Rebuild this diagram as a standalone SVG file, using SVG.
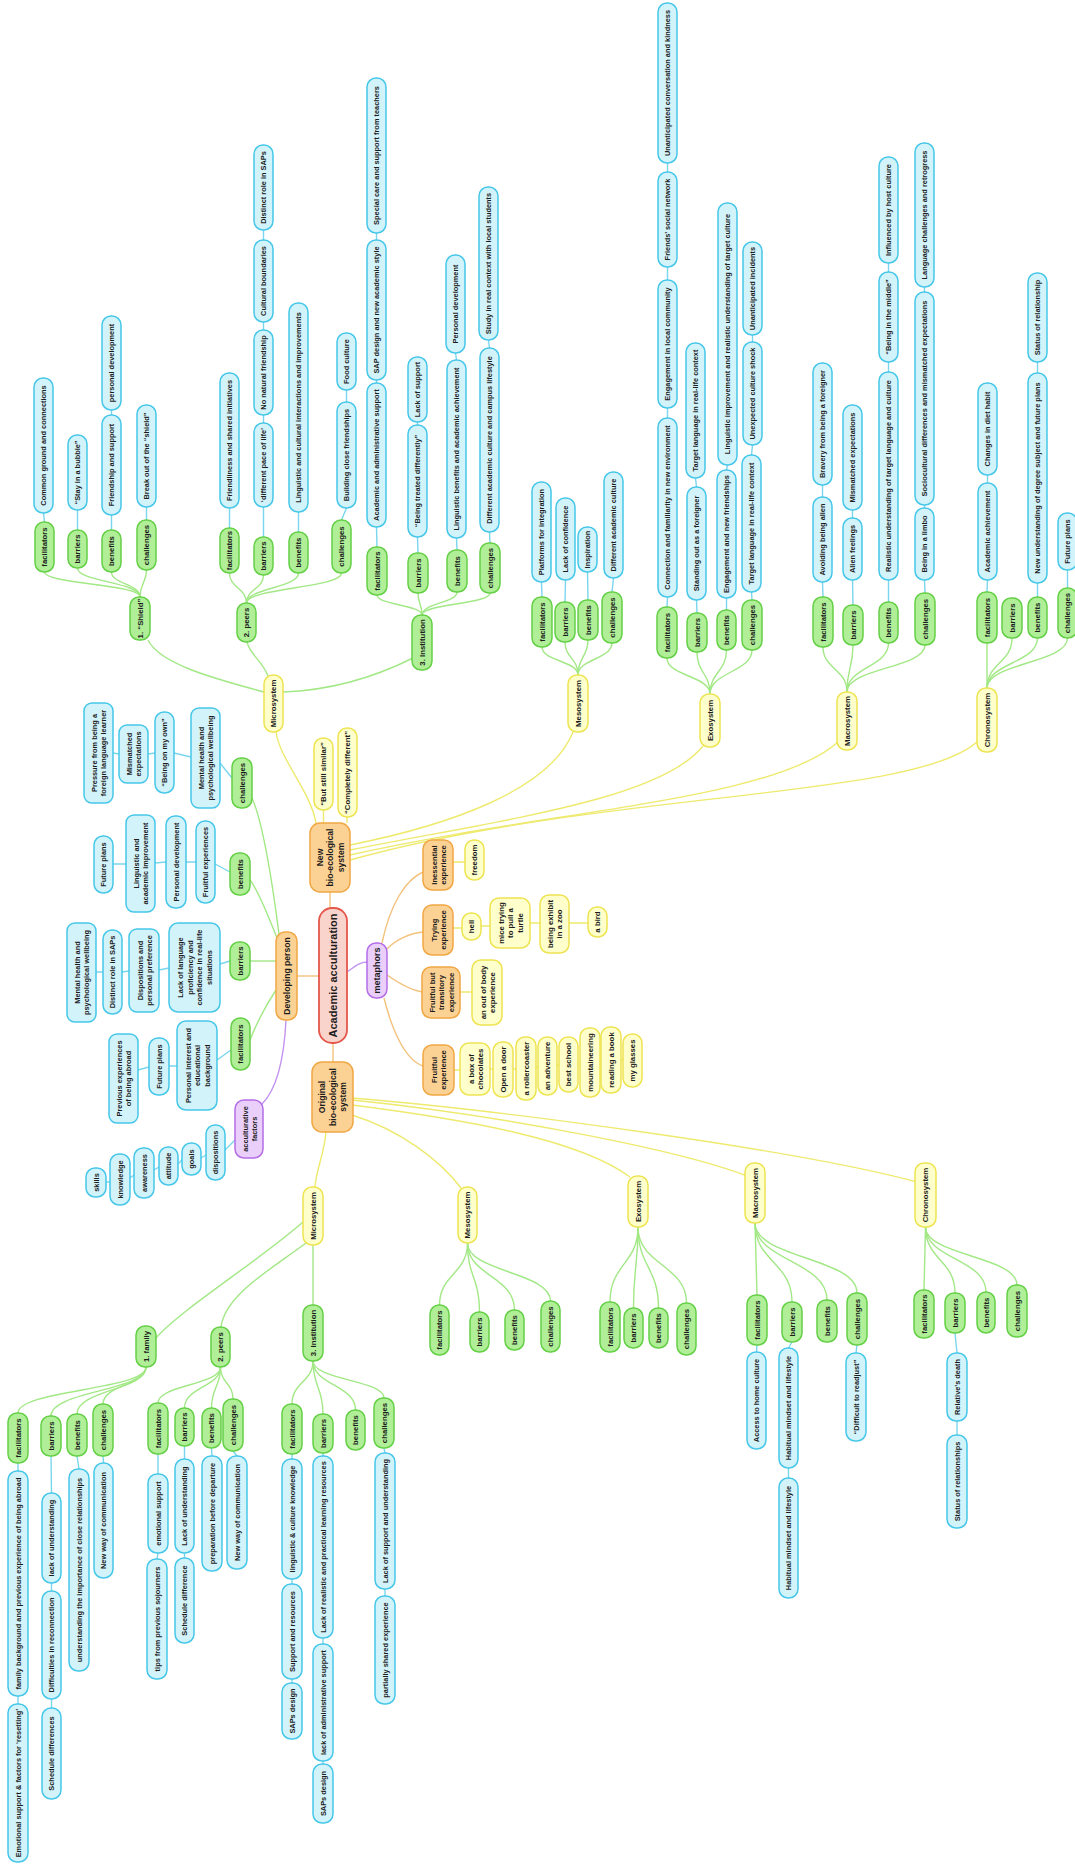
<svg xmlns="http://www.w3.org/2000/svg" width="1075" height="1866" viewBox="0 0 1075 1866">
<style>
rect{stroke-width:1.5}
.nb rect{fill:#d3f3fb;stroke:#46c7e9}
.ng rect{fill:#b0ee98;stroke:#64d046}
.ny rect{fill:#ffffcc;stroke:#eee452}
.no rect{fill:#fcd294;stroke:#f0a744}
.nr rect{fill:#f9d4cc;stroke:#e4574a;stroke-width:1.8}
.np rect{fill:#eacffa;stroke:#b46ee6}
text{font-family:"Liberation Sans",Arial,sans-serif;font-weight:bold;fill:#1c1c1c;text-anchor:middle;dominant-baseline:central;font-size:7.4px}
.ng text,.ny text{font-size:7.8px}
.no text{font-size:8.6px}
.no.sm text{font-size:7.6px}
.nr text{font-size:11px}
.np.big text{font-size:9px}
#connectors path{fill:none;stroke-width:1.4}
.lg path{stroke:#a3e886}
.ly path{stroke:#eeea6e}
.lb path{stroke:#7ad6ee}
.lo path{stroke:#f2c27c}
.lp path{stroke:#c393f0}
</style>
<rect width="1075" height="1866" fill="#fff"/>

<!-- connectors, drawn beneath the nodes -->
<g id="connectors">
<g class="lo">
<path d="M330 908V892"/><path d="M319 976H297"/><path d="M333 1043V1062"/>
<path d="M382 943C390 905 405 880 423 872"/>
<path d="M386 950C395 940 410 933 423 932"/>
<path d="M387 975C397 982 410 990 422 992"/>
<path d="M384 998C392 1030 405 1060 423 1066"/>
</g>
<g class="lp">
<path d="M347 972C355 966 360 962 367 962"/>
<path d="M286 1020C284 1060 276 1090 262 1104"/>
</g>
<g class="ly">
<path d="M316 823C310 790 280 760 276 732"/>
<path d="M323.5 823V810"/><path d="M347 823V817"/>
<path d="M350 845C450 825 550 790 573 732"/>
<path d="M350 850C500 820 660 800 703 746"/>
<path d="M350 855C550 810 780 800 840 740"/>
<path d="M350 860C600 790 920 800 979 740"/>
<path d="M326 1132C324 1155 316 1170 315 1187"/>
<path d="M352 1115C400 1130 440 1160 461 1188"/>
<path d="M352 1105C470 1120 580 1140 630 1177"/>
<path d="M352 1100C500 1115 680 1150 747 1176"/>
<path d="M352 1098C500 1110 800 1150 917 1182"/>
<path d="M453 862H465M453 928H462M481 926H490M530 923H540M569 923H588M460 992H472"/>
<path d="M454 1070H460M490 1069H493M513 1069H516M536 1067H538M557 1065H559M578 1064H580M600 1061H601M621 1060H623"/>
</g>
<g class="lg">
<path d="M264 692C220 680 160 665 148 640"/>
<path d="M268 676C262 660 250 655 247 642"/>
<path d="M283 692C340 690 385 672 413 658"/>
<path d="M140 597C140 584 44.5 584 44.5 572"/>
<path d="M140 597C140 582 77.5 582 77.5 568"/>
<path d="M140 597C140 584 111.5 584 111.5 572"/>
<path d="M140 597C140 583 146.5 583 146.5 570"/>
<path d="M246.5 603C246.5 588 229.5 588 229.5 573"/>
<path d="M246.5 603C246.5 589 263.5 589 263.5 575"/>
<path d="M246.5 603C246.5 588 298.5 588 298.5 573"/>
<path d="M246.5 603C246.5 588 341.5 588 341.5 573"/>
<path d="M422 615C422 605 377 605 377 595"/>
<path d="M422 615C422 604 418 604 418 593"/>
<path d="M422 615C422 603 457 603 457 592"/>
<path d="M422 615C422 604 490 604 490 593"/>
<path d="M578 675C578 661 542 661 542 647"/>
<path d="M578 675C578 658 565 658 565 642"/>
<path d="M578 675C578 657 588 657 588 640"/>
<path d="M578 675C578 659 612 659 612 643"/>
<path d="M710 694C710 676 667 676 667 658"/>
<path d="M710 694C710 673 697 673 697 652"/>
<path d="M710 694C710 672 726.5 672 726.5 650"/>
<path d="M710 694C710 672 752 672 752 650"/>
<path d="M847 692C847 669 823 669 823 647"/>
<path d="M847 692C847 668 853 668 853 645"/>
<path d="M847 692C847 667 888.5 667 888.5 643"/>
<path d="M847 692C847 668 925 668 925 645"/>
<path d="M987 688V643"/>
<path d="M987 688C987 663 1012 663 1012 638"/>
<path d="M987 688C987 663 1037.5 663 1037.5 638"/>
<path d="M987 688C987 663 1067.5 663 1067.5 638"/>
<path d="M279 934C272 880 262 820 252 798"/>
<path d="M277 938C268 915 258 890 250 880"/>
<path d="M276 961H250"/>
<path d="M276 990C266 1005 256 1025 250 1040"/>
<path d="M303 1222C260 1260 180 1310 156 1338"/>
<path d="M306 1243C270 1270 225 1295 221 1327"/>
<path d="M313 1245V1305"/>
<path d="M146 1367C146 1390 18 1390 18 1413"/>
<path d="M146 1367C146 1391 51 1391 51 1416"/>
<path d="M146 1367C146 1390 77 1390 77 1414"/>
<path d="M146 1367C146 1385 103 1385 103 1404"/>
<path d="M220.5 1367C220.5 1385 158 1385 158 1403"/>
<path d="M220.5 1367C220.5 1387 184.5 1387 184.5 1408"/>
<path d="M220.5 1367C220.5 1387 211.5 1387 211.5 1408"/>
<path d="M220.5 1367C220.5 1383 233 1383 233 1399"/>
<path d="M313 1361C313 1382 292 1382 292 1404"/>
<path d="M313 1361C313 1387 323 1387 323 1414"/>
<path d="M313 1361C313 1385 355.5 1385 355.5 1410"/>
<path d="M313 1361C313 1380 384 1380 384 1398"/>
<path d="M467.5 1243C467.5 1274 439.5 1274 439.5 1305"/>
<path d="M467.5 1243C467.5 1277 479.5 1277 479.5 1312"/>
<path d="M467.5 1243C467.5 1276 514.5 1276 514.5 1310"/>
<path d="M467.5 1243C467.5 1272 550.5 1272 550.5 1301"/>
<path d="M638 1227C638 1264 610 1264 610 1302"/>
<path d="M638 1227C638 1267 633.5 1267 633.5 1308"/>
<path d="M638 1227C638 1267 658.5 1267 658.5 1308"/>
<path d="M638 1227C638 1265 686.5 1265 686.5 1303"/>
<path d="M755 1223L757 1295"/>
<path d="M755 1223C755 1262 792 1262 792 1302"/>
<path d="M755 1223C755 1261 827 1261 827 1300"/>
<path d="M755 1223C755 1258 857 1258 857 1293"/>
<path d="M925.5 1227L924 1290"/>
<path d="M925.5 1227C925.5 1260 955 1260 955 1293"/>
<path d="M925.5 1227C925.5 1259 986 1259 986 1292"/>
<path d="M925.5 1227C925.5 1256 1017 1256 1017 1285"/>
</g>
<g class="lb">
<path d="M44.5 522L43.5 513M77.5 530V510M111.5 530V515M111.5 415V410M146.5 520V507"/>
<path d="M229.5 528V508M263.5 537V507M263.5 423V415M263.5 330V322M263.5 240V230M298.5 532V512M341.5 520L346.5 508M346.5 402V390"/>
<path d="M377 547L376.5 527M376.5 383V380M376.5 240V233M418 553L417.5 537M417.5 425V422M457 550L456.5 538M456.5 360L455.5 353M490 543L489.5 532M489.5 348L488.5 340"/>
<path d="M542 597L541.5 582M565 602L565.5 580M588 600L587.5 572M612 592L613.5 578"/>
<path d="M667 607L667.5 597M667.5 418V408M667.5 280V267M667.5 172V163M697 613L696.5 600M696.5 487L695.5 478M726.5 610V598M726.5 470L727.5 465M752 600L751.5 592M751.5 455L752.5 445M752.5 342V335"/>
<path d="M823 597L822.5 582M822.5 497V485M853 605L852.5 580M852.5 518V510M888.5 602V580M888.5 372V362M888.5 272V263M925 593L924.5 580M924.5 508V505M924.5 292V287"/>
<path d="M987 592L987.5 580M987.5 483V475M1037.5 597V583M1037.5 373V362M1067.5 588V570"/>
<path d="M18 1463V1471M18 1696V1704M51 1456L51.5 1493M51.5 1583V1591M51.5 1699V1708M77 1456L79 1469M103 1456L103.5 1463"/>
<path d="M158 1454V1474M158 1553L157 1559M184.5 1446V1459M184.5 1553V1558M211.5 1448L212 1456M233 1451L237 1456"/>
<path d="M292 1454V1459M292 1579V1584M292 1679V1683M323 1453V1456M323 1638V1644M323 1761V1764M384 1448L385 1453M385 1589V1596"/>
<path d="M757 1345L756.5 1352M792 1342L788.5 1348M788.5 1468V1478M857 1345L856 1353M955 1333L957 1353M957 1421V1435"/>
<path d="M232 778L220 763M191 757L174 753M155 753L148 754M119 754L113 753"/>
<path d="M230 872L215 864M196 862H186M166 862L155 863M126 864H113"/>
<path d="M230 961L220 964M169 968L159 970M129 971L122 972M103 972H96"/>
<path d="M231 1050L217 1060M177 1066H169M149 1067L138 1070"/>
<path d="M235 1140L225 1150M206 1155L201 1158M182 1160L178 1164M159 1167L154 1170M134 1175L130 1178M110 1182L106 1182"/>
</g>
</g>

<!-- core -->
<g id="root" class="nr"><rect x="319" y="908" width="28" height="135" rx="13"/><text transform="rotate(-90 333 975.5)" x="333" y="975.5">Academic acculturation</text></g>
<g id="new-system" class="no"><rect x="310" y="823" width="40" height="69" rx="10"/><text transform="rotate(-90 330 857.5)" x="330" y="857.5"><tspan x="330" dy="-10.5">New</tspan><tspan x="330" dy="10.5">bio-ecological</tspan><tspan x="330" dy="10.5">system</tspan></text></g>
<g id="developing-person" class="no"><rect x="276" y="932" width="21" height="88" rx="9"/><text transform="rotate(-90 286.5 976)" x="286.5" y="976">Developing person</text></g>
<g id="original-system" class="no"><rect x="312" y="1062" width="41" height="70" rx="10"/><text transform="rotate(-90 332.5 1097)" x="332.5" y="1097"><tspan x="332.5" dy="-10.5">Original</tspan><tspan x="332.5" dy="10.5">bio-ecological</tspan><tspan x="332.5" dy="10.5">system</tspan></text></g>
<g id="metaphors" class="np big"><rect x="367" y="943" width="20" height="55" rx="9"/><text transform="rotate(-90 377 970.5)" x="377" y="970.5">metaphors</text></g>
<g id="acculturative-factors" class="np"><rect x="235" y="1100" width="28" height="58" rx="9"/><text transform="rotate(-90 249 1129)" x="249" y="1129"><tspan x="249" dy="-4.5">acculturative</tspan><tspan x="249" dy="9">factors</tspan></text></g>

<!-- new bio-ecological system -->
<g id="y-micro-new" class="ny"><rect x="264" y="675" width="19" height="57" rx="9"/><text transform="rotate(-90 273.5 703.5)" x="273.5" y="703.5">Microsystem</text></g>
<g id="y-similar" class="ny"><rect x="314" y="738" width="19" height="72" rx="9"/><text transform="rotate(-90 323.5 774)" x="323.5" y="774">“But still similar”</text></g>
<g id="y-different" class="ny"><rect x="338" y="728" width="19" height="89" rx="9"/><text transform="rotate(-90 347.5 772.5)" x="347.5" y="772.5">“Completely different”</text></g>
<g id="y-meso-new" class="ny"><rect x="568" y="675" width="20" height="57" rx="9"/><text transform="rotate(-90 578 703.5)" x="578" y="703.5">Mesosystem</text></g>
<g id="y-exo-new" class="ny"><rect x="700" y="694" width="20" height="53" rx="9"/><text transform="rotate(-90 710 720.5)" x="710" y="720.5">Exosystem</text></g>
<g id="y-macro-new" class="ny"><rect x="837" y="692" width="20" height="58" rx="9"/><text transform="rotate(-90 847 721)" x="847" y="721">Macrosystem</text></g>
<g id="y-chrono-new" class="ny"><rect x="977" y="688" width="20" height="64" rx="9"/><text transform="rotate(-90 987 720)" x="987" y="720">Chronosystem</text></g>

<g id="g-shield" class="ng"><rect x="130" y="597" width="20" height="43" rx="9"/><text transform="rotate(-90 140 618.5)" x="140" y="618.5">1. “Shield”</text></g>
<g id="g-peers-new" class="ng"><rect x="237" y="603" width="19" height="39" rx="9"/><text transform="rotate(-90 246.5 622.5)" x="246.5" y="622.5">2. peers</text></g>
<g id="g-inst-new" class="ng"><rect x="412" y="615" width="20" height="55" rx="9"/><text transform="rotate(-90 422 642.5)" x="422" y="642.5">3. Institution</text></g>

<g id="s-fac" class="ng"><rect x="35" y="522" width="19" height="50" rx="9"/><text transform="rotate(-90 44.5 547)" x="44.5" y="547">facilitators</text></g>
<g id="s-fac-1" class="nb"><rect x="34" y="378" width="19" height="135" rx="9"/><text transform="rotate(-90 43.5 445.5)" x="43.5" y="445.5">Common ground and connections</text></g>
<g id="s-bar" class="ng"><rect x="68" y="530" width="19" height="38" rx="9"/><text transform="rotate(-90 77.5 549)" x="77.5" y="549">barriers</text></g>
<g id="s-bar-1" class="nb"><rect x="68" y="435" width="19" height="75" rx="9"/><text transform="rotate(-90 77.5 472.5)" x="77.5" y="472.5">“Stay in a bubble”</text></g>
<g id="s-ben" class="ng"><rect x="102" y="530" width="19" height="42" rx="9"/><text transform="rotate(-90 111.5 551)" x="111.5" y="551">benefits</text></g>
<g id="s-ben-1" class="nb"><rect x="102" y="415" width="19" height="100" rx="9"/><text transform="rotate(-90 111.5 465)" x="111.5" y="465">Friendship and support</text></g>
<g id="s-ben-2" class="nb"><rect x="102" y="316" width="19" height="94" rx="9"/><text transform="rotate(-90 111.5 363)" x="111.5" y="363">personal development</text></g>
<g id="s-cha" class="ng"><rect x="137" y="520" width="19" height="50" rx="9"/><text transform="rotate(-90 146.5 545)" x="146.5" y="545">challenges</text></g>
<g id="s-cha-1" class="nb"><rect x="137" y="405" width="19" height="102" rx="9"/><text transform="rotate(-90 146.5 456)" x="146.5" y="456">Break out of the “shield”</text></g>

<g id="p-fac" class="ng"><rect x="220" y="528" width="19" height="45" rx="9"/><text transform="rotate(-90 229.5 550.5)" x="229.5" y="550.5">facilitators</text></g>
<g id="p-fac-1" class="nb"><rect x="220" y="373" width="19" height="135" rx="9"/><text transform="rotate(-90 229.5 440.5)" x="229.5" y="440.5">Friendliness and shared initiatives</text></g>
<g id="p-bar" class="ng"><rect x="254" y="537" width="19" height="38" rx="9"/><text transform="rotate(-90 263.5 556)" x="263.5" y="556">barriers</text></g>
<g id="p-bar-1" class="nb"><rect x="254" y="423" width="19" height="84" rx="9"/><text transform="rotate(-90 263.5 465)" x="263.5" y="465">‘different pace of life’</text></g>
<g id="p-bar-2" class="nb"><rect x="254" y="330" width="19" height="85" rx="9"/><text transform="rotate(-90 263.5 372.5)" x="263.5" y="372.5">No natural friendship</text></g>
<g id="p-bar-3" class="nb"><rect x="254" y="240" width="19" height="82" rx="9"/><text transform="rotate(-90 263.5 281)" x="263.5" y="281">Cultural boundaries</text></g>
<g id="p-bar-4" class="nb"><rect x="254" y="145" width="19" height="85" rx="9"/><text transform="rotate(-90 263.5 187.5)" x="263.5" y="187.5">Distinct role in SAPs</text></g>
<g id="p-ben" class="ng"><rect x="289" y="532" width="19" height="41" rx="9"/><text transform="rotate(-90 298.5 552.5)" x="298.5" y="552.5">benefits</text></g>
<g id="p-ben-1" class="nb"><rect x="289" y="303" width="19" height="209" rx="9"/><text transform="rotate(-90 298.5 407.5)" x="298.5" y="407.5">Linguistic and cultural interactions and improvements</text></g>
<g id="p-cha" class="ng"><rect x="332" y="520" width="19" height="53" rx="9"/><text transform="rotate(-90 341.5 546.5)" x="341.5" y="546.5">challenges</text></g>
<g id="p-cha-1" class="nb"><rect x="337" y="402" width="19" height="106" rx="9"/><text transform="rotate(-90 346.5 455)" x="346.5" y="455">Building close friendships</text></g>
<g id="p-cha-2" class="nb"><rect x="337" y="333" width="19" height="57" rx="9"/><text transform="rotate(-90 346.5 361.5)" x="346.5" y="361.5">Food culture</text></g>

<g id="i-fac" class="ng"><rect x="367" y="547" width="20" height="48" rx="9"/><text transform="rotate(-90 377 571)" x="377" y="571">facilitators</text></g>
<g id="i-fac-1" class="nb"><rect x="367" y="383" width="19" height="144" rx="9"/><text transform="rotate(-90 376.5 455)" x="376.5" y="455">Academic and administrative support</text></g>
<g id="i-fac-2" class="nb"><rect x="367" y="240" width="19" height="140" rx="9"/><text transform="rotate(-90 376.5 310)" x="376.5" y="310">SAP design and new academic style</text></g>
<g id="i-fac-3" class="nb"><rect x="367" y="78" width="19" height="155" rx="9"/><text transform="rotate(-90 376.5 155.5)" x="376.5" y="155.5">Special care and support from teachers</text></g>
<g id="i-bar" class="ng"><rect x="408" y="553" width="20" height="40" rx="9"/><text transform="rotate(-90 418 573)" x="418" y="573">barriers</text></g>
<g id="i-bar-1" class="nb"><rect x="408" y="425" width="19" height="112" rx="9"/><text transform="rotate(-90 417.5 481)" x="417.5" y="481">“Being treated differently”</text></g>
<g id="i-bar-2" class="nb"><rect x="408" y="357" width="19" height="65" rx="9"/><text transform="rotate(-90 417.5 389.5)" x="417.5" y="389.5">Lack of support</text></g>
<g id="i-ben" class="ng"><rect x="447" y="550" width="20" height="42" rx="9"/><text transform="rotate(-90 457 571)" x="457" y="571">benefits</text></g>
<g id="i-ben-1" class="nb"><rect x="447" y="360" width="19" height="178" rx="9"/><text transform="rotate(-90 456.5 449)" x="456.5" y="449">Linguistic benefits and academic achievement</text></g>
<g id="i-ben-2" class="nb"><rect x="446" y="255" width="19" height="98" rx="9"/><text transform="rotate(-90 455.5 304)" x="455.5" y="304">Personal development</text></g>
<g id="i-cha" class="ng"><rect x="480" y="543" width="20" height="50" rx="9"/><text transform="rotate(-90 490 568)" x="490" y="568">challenges</text></g>
<g id="i-cha-1" class="nb"><rect x="480" y="348" width="19" height="184" rx="9"/><text transform="rotate(-90 489.5 440)" x="489.5" y="440">Different academic culture and campus lifestyle</text></g>
<g id="i-cha-2" class="nb"><rect x="479" y="187" width="19" height="153" rx="9"/><text transform="rotate(-90 488.5 263.5)" x="488.5" y="263.5">Study in real context with local students</text></g>

<g id="m-fac" class="ng"><rect x="532" y="597" width="20" height="50" rx="9"/><text transform="rotate(-90 542 622)" x="542" y="622">facilitators</text></g>
<g id="m-fac-1" class="nb"><rect x="532" y="482" width="19" height="100" rx="9"/><text transform="rotate(-90 541.5 532)" x="541.5" y="532">Platforms for integration</text></g>
<g id="m-bar" class="ng"><rect x="555" y="602" width="20" height="40" rx="9"/><text transform="rotate(-90 565 622)" x="565" y="622">barriers</text></g>
<g id="m-bar-1" class="nb"><rect x="556" y="498" width="19" height="82" rx="9"/><text transform="rotate(-90 565.5 539)" x="565.5" y="539">Lack of confidence</text></g>
<g id="m-ben" class="ng"><rect x="578" y="600" width="20" height="40" rx="9"/><text transform="rotate(-90 588 620)" x="588" y="620">benefits</text></g>
<g id="m-ben-1" class="nb"><rect x="578" y="527" width="19" height="45" rx="9"/><text transform="rotate(-90 587.5 549.5)" x="587.5" y="549.5">Inspiration</text></g>
<g id="m-cha" class="ng"><rect x="602" y="592" width="20" height="51" rx="9"/><text transform="rotate(-90 612 617.5)" x="612" y="617.5">challenges</text></g>
<g id="m-cha-1" class="nb"><rect x="604" y="472" width="19" height="106" rx="9"/><text transform="rotate(-90 613.5 525)" x="613.5" y="525">Different academic culture</text></g>

<g id="e-fac" class="ng"><rect x="657" y="607" width="20" height="51" rx="9"/><text transform="rotate(-90 667 632.5)" x="667" y="632.5">facilitators</text></g>
<g id="e-fac-1" class="nb"><rect x="658" y="418" width="19" height="179" rx="9"/><text transform="rotate(-90 667.5 507.5)" x="667.5" y="507.5">Connection and familiarity in new environment</text></g>
<g id="e-fac-2" class="nb"><rect x="658" y="280" width="19" height="128" rx="9"/><text transform="rotate(-90 667.5 344)" x="667.5" y="344">Engagement in local community</text></g>
<g id="e-fac-3" class="nb"><rect x="658" y="172" width="19" height="95" rx="9"/><text transform="rotate(-90 667.5 219.5)" x="667.5" y="219.5">Friends’ social network</text></g>
<g id="e-fac-4" class="nb"><rect x="658" y="3" width="19" height="160" rx="9"/><text transform="rotate(-90 667.5 83)" x="667.5" y="83">Unanticipated conversation and kindness</text></g>
<g id="e-bar" class="ng"><rect x="687" y="613" width="20" height="39" rx="9"/><text transform="rotate(-90 697 632.5)" x="697" y="632.5">barriers</text></g>
<g id="e-bar-1" class="nb"><rect x="687" y="487" width="19" height="113" rx="9"/><text transform="rotate(-90 696.5 543.5)" x="696.5" y="543.5">Standing out as a foreigner</text></g>
<g id="e-bar-2" class="nb"><rect x="686" y="343" width="19" height="135" rx="9"/><text transform="rotate(-90 695.5 410.5)" x="695.5" y="410.5">Target language in real-life context</text></g>
<g id="e-ben" class="ng"><rect x="717" y="610" width="19" height="40" rx="9"/><text transform="rotate(-90 726.5 630)" x="726.5" y="630">benefits</text></g>
<g id="e-ben-1" class="nb"><rect x="717" y="470" width="19" height="128" rx="9"/><text transform="rotate(-90 726.5 534)" x="726.5" y="534">Engagement and new friendships</text></g>
<g id="e-ben-2" class="nb"><rect x="718" y="203" width="19" height="262" rx="9"/><text transform="rotate(-90 727.5 334)" x="727.5" y="334">Linguistic improvement and realistic understanding of target culture</text></g>
<g id="e-cha" class="ng"><rect x="742" y="600" width="20" height="50" rx="9"/><text transform="rotate(-90 752 625)" x="752" y="625">challenges</text></g>
<g id="e-cha-1" class="nb"><rect x="742" y="455" width="19" height="137" rx="9"/><text transform="rotate(-90 751.5 523.5)" x="751.5" y="523.5">Target language in real-life context</text></g>
<g id="e-cha-2" class="nb"><rect x="743" y="342" width="19" height="103" rx="9"/><text transform="rotate(-90 752.5 393.5)" x="752.5" y="393.5">Unexpected culture shock</text></g>
<g id="e-cha-3" class="nb"><rect x="743" y="242" width="19" height="93" rx="9"/><text transform="rotate(-90 752.5 288.5)" x="752.5" y="288.5">Unanticipated incidents</text></g>

<g id="a-fac" class="ng"><rect x="813" y="597" width="20" height="50" rx="9"/><text transform="rotate(-90 823 622)" x="823" y="622">facilitators</text></g>
<g id="a-fac-1" class="nb"><rect x="813" y="497" width="19" height="85" rx="9"/><text transform="rotate(-90 822.5 539.5)" x="822.5" y="539.5">Avoiding being alien</text></g>
<g id="a-fac-2" class="nb"><rect x="813" y="363" width="19" height="122" rx="9"/><text transform="rotate(-90 822.5 424)" x="822.5" y="424">Bravery from being a foreigner</text></g>
<g id="a-bar" class="ng"><rect x="843" y="605" width="20" height="40" rx="9"/><text transform="rotate(-90 853 625)" x="853" y="625">barriers</text></g>
<g id="a-bar-1" class="nb"><rect x="843" y="518" width="19" height="62" rx="9"/><text transform="rotate(-90 852.5 549)" x="852.5" y="549">Alien feelings</text></g>
<g id="a-bar-2" class="nb"><rect x="843" y="405" width="19" height="105" rx="9"/><text transform="rotate(-90 852.5 457.5)" x="852.5" y="457.5">Mismatched expectations</text></g>
<g id="a-ben" class="ng"><rect x="879" y="602" width="19" height="41" rx="9"/><text transform="rotate(-90 888.5 622.5)" x="888.5" y="622.5">benefits</text></g>
<g id="a-ben-1" class="nb"><rect x="879" y="372" width="19" height="208" rx="9"/><text transform="rotate(-90 888.5 476)" x="888.5" y="476">Realistic understanding of target language and culture</text></g>
<g id="a-ben-2" class="nb"><rect x="879" y="272" width="19" height="90" rx="9"/><text transform="rotate(-90 888.5 317)" x="888.5" y="317">“Being in the middle”</text></g>
<g id="a-ben-3" class="nb"><rect x="879" y="157" width="19" height="106" rx="9"/><text transform="rotate(-90 888.5 210)" x="888.5" y="210">Influenced by host culture</text></g>
<g id="a-cha" class="ng"><rect x="915" y="593" width="20" height="52" rx="9"/><text transform="rotate(-90 925 619)" x="925" y="619">challenges</text></g>
<g id="a-cha-1" class="nb"><rect x="915" y="508" width="19" height="72" rx="9"/><text transform="rotate(-90 924.5 544)" x="924.5" y="544">Being in a limbo</text></g>
<g id="a-cha-2" class="nb"><rect x="915" y="292" width="19" height="213" rx="9"/><text transform="rotate(-90 924.5 398.5)" x="924.5" y="398.5">Sociocultural differences and mismatched expectations</text></g>
<g id="a-cha-3" class="nb"><rect x="915" y="143" width="19" height="144" rx="9"/><text transform="rotate(-90 924.5 215)" x="924.5" y="215">Language challenges and retrogress</text></g>

<g id="c-fac" class="ng"><rect x="977" y="592" width="20" height="51" rx="9"/><text transform="rotate(-90 987 617.5)" x="987" y="617.5">facilitators</text></g>
<g id="c-fac-1" class="nb"><rect x="978" y="483" width="19" height="97" rx="9"/><text transform="rotate(-90 987.5 531.5)" x="987.5" y="531.5">Academic achievement</text></g>
<g id="c-fac-2" class="nb"><rect x="978" y="383" width="19" height="92" rx="9"/><text transform="rotate(-90 987.5 429)" x="987.5" y="429">Changes in diet habit</text></g>
<g id="c-bar" class="ng"><rect x="1002" y="598" width="20" height="40" rx="9"/><text transform="rotate(-90 1012 618)" x="1012" y="618">barriers</text></g>
<g id="c-ben" class="ng"><rect x="1028" y="597" width="19" height="41" rx="9"/><text transform="rotate(-90 1037.5 617.5)" x="1037.5" y="617.5">benefits</text></g>
<g id="c-ben-1" class="nb"><rect x="1028" y="373" width="19" height="210" rx="9"/><text transform="rotate(-90 1037.5 478)" x="1037.5" y="478">New understanding of degree subject and future plans</text></g>
<g id="c-ben-2" class="nb"><rect x="1028" y="273" width="19" height="89" rx="9"/><text transform="rotate(-90 1037.5 317.5)" x="1037.5" y="317.5">Status of relationship</text></g>
<g id="c-cha" class="ng"><rect x="1058" y="588" width="19" height="50" rx="9"/><text transform="rotate(-90 1067.5 613)" x="1067.5" y="613">challenges</text></g>
<g id="c-cha-1" class="nb"><rect x="1058" y="513" width="19" height="57" rx="9"/><text transform="rotate(-90 1067.5 541.5)" x="1067.5" y="541.5">Future plans</text></g>

<!-- developing person -->
<g id="d-cha" class="ng"><rect x="232" y="758" width="20" height="50" rx="9"/><text transform="rotate(-90 242 783)" x="242" y="783">challenges</text></g>
<g id="d-cha-1" class="nb"><rect x="191" y="708" width="29" height="100" rx="8"/><text transform="rotate(-90 205.5 758)" x="205.5" y="758"><tspan x="205.5" dy="-4.5">Mental health and</tspan><tspan x="205.5" dy="9">psychological wellbeing</tspan></text></g>
<g id="d-cha-2" class="nb"><rect x="155" y="712" width="19" height="81" rx="9"/><text transform="rotate(-90 164.5 752.5)" x="164.5" y="752.5">“Being on my own”</text></g>
<g id="d-cha-3" class="nb"><rect x="119" y="725" width="29" height="58" rx="8"/><text transform="rotate(-90 133.5 754)" x="133.5" y="754"><tspan x="133.5" dy="-4.5">Mismatched</tspan><tspan x="133.5" dy="9">expectations</tspan></text></g>
<g id="d-cha-4" class="nb"><rect x="84" y="703" width="29" height="100" rx="8"/><text transform="rotate(-90 98.5 753)" x="98.5" y="753"><tspan x="98.5" dy="-4.5">Pressure from being a</tspan><tspan x="98.5" dy="9">foreign language learner</tspan></text></g>
<g id="d-ben" class="ng"><rect x="230" y="853" width="20" height="42" rx="9"/><text transform="rotate(-90 240 874)" x="240" y="874">benefits</text></g>
<g id="d-ben-1" class="nb"><rect x="196" y="821" width="19" height="82" rx="9"/><text transform="rotate(-90 205.5 862)" x="205.5" y="862">Fruitful experiences</text></g>
<g id="d-ben-2" class="nb"><rect x="166" y="816" width="20" height="92" rx="9"/><text transform="rotate(-90 176 862)" x="176" y="862">Personal development</text></g>
<g id="d-ben-3" class="nb"><rect x="126" y="815" width="29" height="97" rx="8"/><text transform="rotate(-90 140.5 863.5)" x="140.5" y="863.5"><tspan x="140.5" dy="-4.5">Linguistic and</tspan><tspan x="140.5" dy="9">academic improvement</tspan></text></g>
<g id="d-ben-4" class="nb"><rect x="94" y="836" width="19" height="57" rx="9"/><text transform="rotate(-90 103.5 864.5)" x="103.5" y="864.5">Future plans</text></g>
<g id="d-bar" class="ng"><rect x="230" y="942" width="20" height="38" rx="9"/><text transform="rotate(-90 240 961)" x="240" y="961">barriers</text></g>
<g id="d-bar-1" class="nb"><rect x="169" y="923" width="51" height="89" rx="9"/><text transform="rotate(-90 194.5 967.5)" x="194.5" y="967.5"><tspan x="194.5" dy="-14.25">Lack of language</tspan><tspan x="194.5" dy="9.5">proficiency and</tspan><tspan x="194.5" dy="9.5">confidence in real-life</tspan><tspan x="194.5" dy="9.5">situations</tspan></text></g>
<g id="d-bar-2" class="nb"><rect x="129" y="929" width="30" height="83" rx="8"/><text transform="rotate(-90 144 970.5)" x="144" y="970.5"><tspan x="144" dy="-4.5">Dispositions and</tspan><tspan x="144" dy="9">personal preference</tspan></text></g>
<g id="d-bar-3" class="nb"><rect x="103" y="930" width="19" height="84" rx="9"/><text transform="rotate(-90 112.5 972)" x="112.5" y="972">Distinct role in SAPs</text></g>
<g id="d-bar-4" class="nb"><rect x="67" y="923" width="29" height="99" rx="8"/><text transform="rotate(-90 81.5 972.5)" x="81.5" y="972.5"><tspan x="81.5" dy="-4.5">Mental health and</tspan><tspan x="81.5" dy="9">psychological wellbeing</tspan></text></g>
<g id="d-fac" class="ng"><rect x="231" y="1018" width="19" height="52" rx="9"/><text transform="rotate(-90 240.5 1044)" x="240.5" y="1044">facilitators</text></g>
<g id="d-fac-1" class="nb"><rect x="177" y="1021" width="40" height="89" rx="9"/><text transform="rotate(-90 197 1065.5)" x="197" y="1065.5"><tspan x="197" dy="-9.5">Personal interest and</tspan><tspan x="197" dy="9.5">educational</tspan><tspan x="197" dy="9.5">background</tspan></text></g>
<g id="d-fac-2" class="nb"><rect x="149" y="1038" width="20" height="57" rx="9"/><text transform="rotate(-90 159 1066.5)" x="159" y="1066.5">Future plans</text></g>
<g id="d-fac-3" class="nb"><rect x="109" y="1034" width="29" height="89" rx="8"/><text transform="rotate(-90 123.5 1078.5)" x="123.5" y="1078.5"><tspan x="123.5" dy="-4.5">Previous experiences</tspan><tspan x="123.5" dy="9">of being abroad</tspan></text></g>

<g id="k-dispositions" class="nb"><rect x="206" y="1125" width="19" height="55" rx="9"/><text transform="rotate(-90 215.5 1152.5)" x="215.5" y="1152.5">dispositions</text></g>
<g id="k-goals" class="nb"><rect x="182" y="1143" width="19" height="32" rx="9"/><text transform="rotate(-90 191.5 1159)" x="191.5" y="1159">goals</text></g>
<g id="k-attitude" class="nb"><rect x="159" y="1147" width="19" height="38" rx="9"/><text transform="rotate(-90 168.5 1166)" x="168.5" y="1166">attitude</text></g>
<g id="k-awareness" class="nb"><rect x="134" y="1148" width="20" height="50" rx="9"/><text transform="rotate(-90 144 1173)" x="144" y="1173">awareness</text></g>
<g id="k-knowledge" class="nb"><rect x="110" y="1154" width="20" height="51" rx="9"/><text transform="rotate(-90 120 1179.5)" x="120" y="1179.5">knowledge</text></g>
<g id="k-skills" class="nb"><rect x="86" y="1168" width="20" height="29" rx="9"/><text transform="rotate(-90 96 1182.5)" x="96" y="1182.5">skills</text></g>

<!-- metaphors -->
<g id="t-iness" class="no sm"><rect x="423" y="840" width="30" height="50" rx="9"/><text transform="rotate(-90 438 865)" x="438" y="865"><tspan x="438" dy="-4.5">Inessential</tspan><tspan x="438" dy="9">experience</tspan></text></g>
<g id="t-freedom" class="ny"><rect x="465" y="840" width="19" height="40" rx="9"/><text transform="rotate(-90 474.5 860)" x="474.5" y="860">freedom</text></g>
<g id="t-trying" class="no sm"><rect x="423" y="905" width="30" height="50" rx="9"/><text transform="rotate(-90 438 930)" x="438" y="930"><tspan x="438" dy="-4.5">Trying</tspan><tspan x="438" dy="9">experience</tspan></text></g>
<g id="t-hell" class="ny"><rect x="462" y="913" width="19" height="27" rx="9"/><text transform="rotate(-90 471.5 926.5)" x="471.5" y="926.5">hell</text></g>
<g id="t-mice" class="ny"><rect x="490" y="898" width="40" height="50" rx="9"/><text transform="rotate(-90 510 923)" x="510" y="923"><tspan x="510" dy="-9.5">mice trying</tspan><tspan x="510" dy="9.5">to pull a</tspan><tspan x="510" dy="9.5">turtle</tspan></text></g>
<g id="t-zoo" class="ny"><rect x="540" y="895" width="29" height="58" rx="9"/><text transform="rotate(-90 554.5 924)" x="554.5" y="924"><tspan x="554.5" dy="-4.5">being exhibit</tspan><tspan x="554.5" dy="9">in a zoo</tspan></text></g>
<g id="t-bird" class="ny"><rect x="588" y="907" width="19" height="30" rx="9"/><text transform="rotate(-90 597.5 922)" x="597.5" y="922">a bird</text></g>
<g id="t-transitory" class="no sm"><rect x="422" y="967" width="38" height="51" rx="9"/><text transform="rotate(-90 441 992.5)" x="441" y="992.5"><tspan x="441" dy="-9.5">Fruitful but</tspan><tspan x="441" dy="9.5">transitory</tspan><tspan x="441" dy="9.5">experience</tspan></text></g>
<g id="t-body" class="ny"><rect x="472" y="960" width="30" height="65" rx="9"/><text transform="rotate(-90 487 992.5)" x="487" y="992.5"><tspan x="487" dy="-4.5">an out of body</tspan><tspan x="487" dy="9">experience</tspan></text></g>
<g id="t-fruitful" class="no sm"><rect x="423" y="1045" width="31" height="50" rx="9"/><text transform="rotate(-90 438.5 1070)" x="438.5" y="1070"><tspan x="438.5" dy="-4.5">Fruitful</tspan><tspan x="438.5" dy="9">experience</tspan></text></g>
<g id="t-box" class="ny"><rect x="460" y="1043" width="30" height="52" rx="9"/><text transform="rotate(-90 475 1069)" x="475" y="1069"><tspan x="475" dy="-4.5">a box of</tspan><tspan x="475" dy="9">chocolates</tspan></text></g>
<g id="t-door" class="ny"><rect x="493" y="1042" width="20" height="55" rx="9"/><text transform="rotate(-90 503 1069.5)" x="503" y="1069.5">Open a door</text></g>
<g id="t-roller" class="ny"><rect x="516" y="1037" width="20" height="63" rx="9"/><text transform="rotate(-90 526 1068.5)" x="526" y="1068.5">a rollercoaster</text></g>
<g id="t-adventure" class="ny"><rect x="538" y="1037" width="19" height="58" rx="9"/><text transform="rotate(-90 547.5 1066)" x="547.5" y="1066">an adventure</text></g>
<g id="t-school" class="ny"><rect x="559" y="1037" width="19" height="55" rx="9"/><text transform="rotate(-90 568.5 1064.5)" x="568.5" y="1064.5">best school</text></g>
<g id="t-mountain" class="ny"><rect x="580" y="1028" width="20" height="69" rx="9"/><text transform="rotate(-90 590 1062.5)" x="590" y="1062.5">mountaineering</text></g>
<g id="t-book" class="ny"><rect x="601" y="1027" width="20" height="66" rx="9"/><text transform="rotate(-90 611 1060)" x="611" y="1060">reading a book</text></g>
<g id="t-glasses" class="ny"><rect x="623" y="1034" width="19" height="53" rx="9"/><text transform="rotate(-90 632.5 1060.5)" x="632.5" y="1060.5">my glasses</text></g>

<!-- original bio-ecological system -->
<g id="y-micro-orig" class="ny"><rect x="303" y="1187" width="20" height="58" rx="9"/><text transform="rotate(-90 313 1216)" x="313" y="1216">Microsystem</text></g>
<g id="y-meso-orig" class="ny"><rect x="458" y="1187" width="19" height="56" rx="9"/><text transform="rotate(-90 467.5 1215)" x="467.5" y="1215">Mesosystem</text></g>
<g id="y-exo-orig" class="ny"><rect x="628" y="1176" width="20" height="51" rx="9"/><text transform="rotate(-90 638 1201.5)" x="638" y="1201.5">Exosystem</text></g>
<g id="y-macro-orig" class="ny"><rect x="745" y="1163" width="20" height="60" rx="9"/><text transform="rotate(-90 755 1193)" x="755" y="1193">Macrosystem</text></g>
<g id="y-chrono-orig" class="ny"><rect x="915" y="1163" width="21" height="64" rx="9"/><text transform="rotate(-90 925.5 1195)" x="925.5" y="1195">Chronosystem</text></g>

<g id="o-family" class="ng"><rect x="136" y="1326" width="20" height="41" rx="9"/><text transform="rotate(-90 146 1346.5)" x="146" y="1346.5">1. family</text></g>
<g id="o-peers" class="ng"><rect x="211" y="1327" width="19" height="40" rx="9"/><text transform="rotate(-90 220.5 1347)" x="220.5" y="1347">2. peers</text></g>
<g id="o-inst" class="ng"><rect x="303" y="1305" width="20" height="56" rx="9"/><text transform="rotate(-90 313 1333)" x="313" y="1333">3. Institution</text></g>

<g id="f-fac" class="ng"><rect x="8" y="1413" width="20" height="50" rx="9"/><text transform="rotate(-90 18 1438)" x="18" y="1438">facilitators</text></g>
<g id="f-fac-1" class="nb"><rect x="8" y="1471" width="20" height="225" rx="9"/><text transform="rotate(-90 18 1583.5)" x="18" y="1583.5">family background and previous experience of being abroad</text></g>
<g id="f-fac-2" class="nb"><rect x="8" y="1704" width="20" height="158" rx="9"/><text transform="rotate(-90 18 1783)" x="18" y="1783">Emotional support &amp; factors for ‘resetting’</text></g>
<g id="f-bar" class="ng"><rect x="41" y="1416" width="20" height="40" rx="9"/><text transform="rotate(-90 51 1436)" x="51" y="1436">barriers</text></g>
<g id="f-bar-1" class="nb"><rect x="42" y="1493" width="19" height="90" rx="9"/><text transform="rotate(-90 51.5 1538)" x="51.5" y="1538">lack of understanding</text></g>
<g id="f-bar-2" class="nb"><rect x="42" y="1591" width="19" height="108" rx="9"/><text transform="rotate(-90 51.5 1645)" x="51.5" y="1645">Difficulties in reconnection</text></g>
<g id="f-bar-3" class="nb"><rect x="42" y="1708" width="19" height="91" rx="9"/><text transform="rotate(-90 51.5 1753.5)" x="51.5" y="1753.5">Schedule differences</text></g>
<g id="f-ben" class="ng"><rect x="67" y="1414" width="20" height="42" rx="9"/><text transform="rotate(-90 77 1435)" x="77" y="1435">benefits</text></g>
<g id="f-ben-1" class="nb"><rect x="69" y="1469" width="20" height="202" rx="9"/><text transform="rotate(-90 79 1570)" x="79" y="1570">understanding the importance of close relationships</text></g>
<g id="f-cha" class="ng"><rect x="93" y="1404" width="20" height="52" rx="9"/><text transform="rotate(-90 103 1430)" x="103" y="1430">challenges</text></g>
<g id="f-cha-1" class="nb"><rect x="94" y="1463" width="19" height="115" rx="9"/><text transform="rotate(-90 103.5 1520.5)" x="103.5" y="1520.5">New way of communication</text></g>

<g id="q-fac" class="ng"><rect x="148" y="1403" width="20" height="51" rx="9"/><text transform="rotate(-90 158 1428.5)" x="158" y="1428.5">facilitators</text></g>
<g id="q-fac-1" class="nb"><rect x="148" y="1474" width="20" height="79" rx="9"/><text transform="rotate(-90 158 1513.5)" x="158" y="1513.5">emotional support</text></g>
<g id="q-fac-2" class="nb"><rect x="147" y="1559" width="20" height="120" rx="9"/><text transform="rotate(-90 157 1619)" x="157" y="1619">tips from previous sojourners</text></g>
<g id="q-bar" class="ng"><rect x="175" y="1408" width="19" height="38" rx="9"/><text transform="rotate(-90 184.5 1427)" x="184.5" y="1427">barriers</text></g>
<g id="q-bar-1" class="nb"><rect x="175" y="1459" width="19" height="94" rx="9"/><text transform="rotate(-90 184.5 1506)" x="184.5" y="1506">Lack of understanding</text></g>
<g id="q-bar-2" class="nb"><rect x="175" y="1558" width="19" height="85" rx="9"/><text transform="rotate(-90 184.5 1600.5)" x="184.5" y="1600.5">Schedule difference</text></g>
<g id="q-ben" class="ng"><rect x="202" y="1408" width="19" height="40" rx="9"/><text transform="rotate(-90 211.5 1428)" x="211.5" y="1428">benefits</text></g>
<g id="q-ben-1" class="nb"><rect x="202" y="1456" width="20" height="115" rx="9"/><text transform="rotate(-90 212 1513.5)" x="212" y="1513.5">preparation before departure</text></g>
<g id="q-cha" class="ng"><rect x="223" y="1399" width="20" height="52" rx="9"/><text transform="rotate(-90 233 1425)" x="233" y="1425">challenges</text></g>
<g id="q-cha-1" class="nb"><rect x="227" y="1456" width="20" height="113" rx="9"/><text transform="rotate(-90 237 1512.5)" x="237" y="1512.5">New way of communication</text></g>

<g id="r-fac" class="ng"><rect x="282" y="1404" width="20" height="50" rx="9"/><text transform="rotate(-90 292 1429)" x="292" y="1429">facilitators</text></g>
<g id="r-fac-1" class="nb"><rect x="282" y="1459" width="20" height="120" rx="9"/><text transform="rotate(-90 292 1519)" x="292" y="1519">linguistic &amp; culture knowledge</text></g>
<g id="r-fac-2" class="nb"><rect x="282" y="1584" width="20" height="95" rx="9"/><text transform="rotate(-90 292 1631.5)" x="292" y="1631.5">Support and resources</text></g>
<g id="r-fac-3" class="nb"><rect x="282" y="1683" width="20" height="56" rx="9"/><text transform="rotate(-90 292 1711)" x="292" y="1711">SAPs design</text></g>
<g id="r-bar" class="ng"><rect x="313" y="1414" width="20" height="39" rx="9"/><text transform="rotate(-90 323 1433.5)" x="323" y="1433.5">barriers</text></g>
<g id="r-bar-1" class="nb"><rect x="313" y="1456" width="20" height="182" rx="9"/><text transform="rotate(-90 323 1547)" x="323" y="1547">Lack of realistic and practical learning resources</text></g>
<g id="r-bar-2" class="nb"><rect x="313" y="1644" width="20" height="117" rx="9"/><text transform="rotate(-90 323 1702.5)" x="323" y="1702.5">lack of administrative support</text></g>
<g id="r-bar-3" class="nb"><rect x="313" y="1764" width="20" height="59" rx="9"/><text transform="rotate(-90 323 1793.5)" x="323" y="1793.5">SAPs design</text></g>
<g id="r-ben" class="ng"><rect x="346" y="1410" width="19" height="40" rx="9"/><text transform="rotate(-90 355.5 1430)" x="355.5" y="1430">benefits</text></g>
<g id="r-cha" class="ng"><rect x="374" y="1398" width="20" height="50" rx="9"/><text transform="rotate(-90 384 1423)" x="384" y="1423">challenges</text></g>
<g id="r-cha-1" class="nb"><rect x="375" y="1453" width="20" height="136" rx="9"/><text transform="rotate(-90 385 1521)" x="385" y="1521">Lack of support and understanding</text></g>
<g id="r-cha-2" class="nb"><rect x="375" y="1596" width="20" height="108" rx="9"/><text transform="rotate(-90 385 1650)" x="385" y="1650">partially shared experience</text></g>

<g id="mo-fac" class="ng"><rect x="430" y="1305" width="19" height="50" rx="9"/><text transform="rotate(-90 439.5 1330)" x="439.5" y="1330">facilitators</text></g>
<g id="mo-bar" class="ng"><rect x="470" y="1312" width="19" height="40" rx="9"/><text transform="rotate(-90 479.5 1332)" x="479.5" y="1332">barriers</text></g>
<g id="mo-ben" class="ng"><rect x="505" y="1310" width="19" height="40" rx="9"/><text transform="rotate(-90 514.5 1330)" x="514.5" y="1330">benefits</text></g>
<g id="mo-cha" class="ng"><rect x="541" y="1301" width="19" height="51" rx="9"/><text transform="rotate(-90 550.5 1326.5)" x="550.5" y="1326.5">challenges</text></g>

<g id="eo-fac" class="ng"><rect x="600" y="1302" width="20" height="50" rx="9"/><text transform="rotate(-90 610 1327)" x="610" y="1327">facilitators</text></g>
<g id="eo-bar" class="ng"><rect x="624" y="1308" width="19" height="40" rx="9"/><text transform="rotate(-90 633.5 1328)" x="633.5" y="1328">barriers</text></g>
<g id="eo-ben" class="ng"><rect x="649" y="1308" width="19" height="40" rx="9"/><text transform="rotate(-90 658.5 1328)" x="658.5" y="1328">benefits</text></g>
<g id="eo-cha" class="ng"><rect x="677" y="1303" width="19" height="52" rx="9"/><text transform="rotate(-90 686.5 1329)" x="686.5" y="1329">challenges</text></g>

<g id="ao-fac" class="ng"><rect x="747" y="1295" width="20" height="50" rx="9"/><text transform="rotate(-90 757 1320)" x="757" y="1320">facilitators</text></g>
<g id="ao-fac-1" class="nb"><rect x="747" y="1352" width="19" height="97" rx="9"/><text transform="rotate(-90 756.5 1400.5)" x="756.5" y="1400.5">Access to home culture</text></g>
<g id="ao-bar" class="ng"><rect x="782" y="1302" width="20" height="40" rx="9"/><text transform="rotate(-90 792 1322)" x="792" y="1322">barriers</text></g>
<g id="ao-bar-1" class="nb"><rect x="779" y="1348" width="19" height="120" rx="9"/><text transform="rotate(-90 788.5 1408)" x="788.5" y="1408">Habitual mindset and lifestyle</text></g>
<g id="ao-bar-2" class="nb"><rect x="779" y="1478" width="19" height="120" rx="9"/><text transform="rotate(-90 788.5 1538)" x="788.5" y="1538">Habitual mindset and lifestyle</text></g>
<g id="ao-ben" class="ng"><rect x="817" y="1300" width="20" height="42" rx="9"/><text transform="rotate(-90 827 1321)" x="827" y="1321">benefits</text></g>
<g id="ao-cha" class="ng"><rect x="847" y="1293" width="20" height="52" rx="9"/><text transform="rotate(-90 857 1319)" x="857" y="1319">challenges</text></g>
<g id="ao-cha-1" class="nb"><rect x="846" y="1353" width="20" height="88" rx="9"/><text transform="rotate(-90 856 1397)" x="856" y="1397">“Difficult to readjust”</text></g>

<g id="co-fac" class="ng"><rect x="914" y="1290" width="20" height="48" rx="9"/><text transform="rotate(-90 924 1314)" x="924" y="1314">facilitators</text></g>
<g id="co-bar" class="ng"><rect x="945" y="1293" width="20" height="40" rx="9"/><text transform="rotate(-90 955 1313)" x="955" y="1313">barriers</text></g>
<g id="co-bar-1" class="nb"><rect x="947" y="1353" width="20" height="68" rx="9"/><text transform="rotate(-90 957 1387)" x="957" y="1387">Relative’s death</text></g>
<g id="co-bar-2" class="nb"><rect x="947" y="1435" width="20" height="93" rx="9"/><text transform="rotate(-90 957 1481.5)" x="957" y="1481.5">Status of relationships</text></g>
<g id="co-ben" class="ng"><rect x="977" y="1292" width="18" height="41" rx="9"/><text transform="rotate(-90 986 1312.5)" x="986" y="1312.5">benefits</text></g>
<g id="co-cha" class="ng"><rect x="1007" y="1285" width="20" height="52" rx="9"/><text transform="rotate(-90 1017 1311)" x="1017" y="1311">challenges</text></g>
</svg>
